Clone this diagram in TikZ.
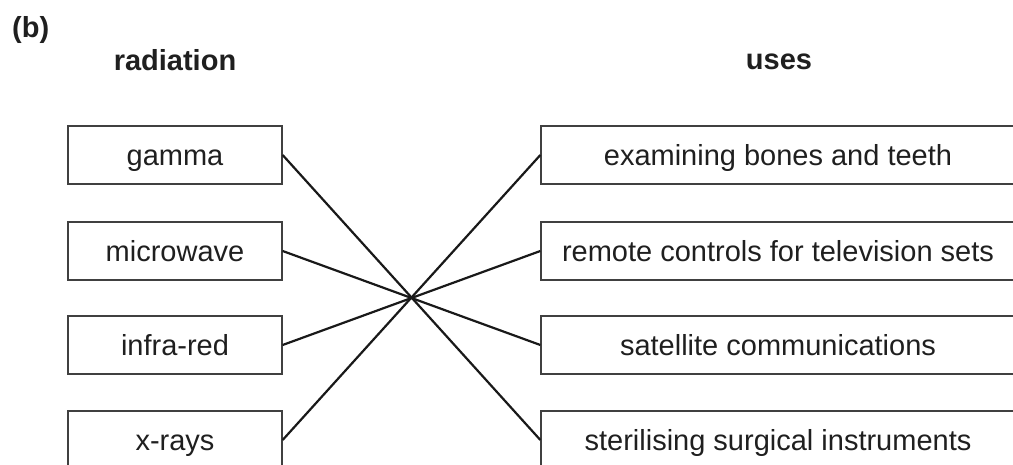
\documentclass[tikz,border=0pt]{standalone}
\usepackage{fontspec}
\setmainfont{Liberation Sans}
\begin{document}
\begin{tikzpicture}[x=1pt,y=-1pt,
  lbox/.style={draw=black!75,line width=1.3pt,rectangle,minimum width=214pt,minimum height=58pt,
    inner sep=0pt,text height=20.8pt,text depth=0pt,text=black!88,font=\fontsize{29}{34}\selectfont},
  rbox/.style={lbox,minimum width=474pt},
  head/.style={anchor=base,text=black!88,font=\fontsize{29}{34}\selectfont\bfseries,inner sep=0pt},
  link/.style={draw=black!90,line width=2.2pt}]
\useasboundingbox (0,0) rectangle (1013,465);
\clip (0,0) rectangle (1013,465);
\node[head,anchor=base west] (b) at (12,38) {(b)};
\node[head] (rad) at (175,71) {radiation};
\node[head] (uses) at (779,70) {uses};
\node[lbox] (g) at (175,155) {gamma};
\node[lbox] (mw) at (175,251) {microwave};
\node[lbox] (ir) at (175,345) {infra-red};
\node[lbox] (xr) at (175,440) {x-rays};
\node[rbox] (ex) at (778,155) {examining bones and teeth};
\node[rbox] (rc) at (778,251) {remote controls for television sets};
\node[rbox] (sc) at (778,345) {satellite communications};
\node[rbox] (st) at (778,440) {sterilising surgical instruments};
\draw[link] (g.east) -- (st.west);
\draw[link] (mw.east) -- (sc.west);
\draw[link] (ir.east) -- (rc.west);
\draw[link] (xr.east) -- (ex.west);
\end{tikzpicture}
\end{document}
